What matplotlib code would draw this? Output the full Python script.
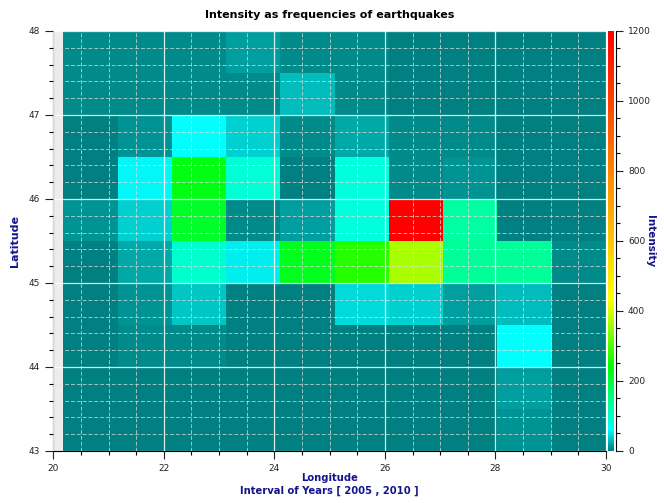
import numpy as np
import matplotlib
matplotlib.use('Agg')
import matplotlib.pyplot as plt
from matplotlib.colors import LinearSegmentedColormap
from matplotlib.ticker import MultipleLocator

# cell edges of the intensity grid
lon_edges = np.linspace(20.18, 30.0, 11)
lat_edges = np.arange(48.0, 42.99, -0.5)

# earthquake intensity per cell, rows from north (48) to south (43)
intensity = [
    [5, 5, 8, 16, 5, 5, 4, 4, 4, 4],
    [5, 5, 9, 5, 32, 8, 4, 4, 4, 4],
    [2, 13, 62, 42, 5, 22, 8, 6, 3, 3],
    [4, 58, 225, 90, 2, 88, 8, 12, 3, 4],
    [10, 38, 215, 6, 17, 85, 1200, 130, 3, 4],
    [2, 22, 95, 55, 222, 270, 370, 135, 135, 8],
    [3, 10, 35, 4, 4, 45, 38, 17, 32, 4],
    [3, 5, 6, 4, 4, 4, 4, 4, 62, 3],
    [3, 3, 3, 3, 3, 3, 3, 3, 15, 3],
    [3, 3, 3, 3, 3, 3, 3, 3, 10, 3],
]

cmap = LinearSegmentedColormap.from_list('quake', [
    (0.0, (0.0, 0.5, 0.5)),
    (0.05, (0.0, 1.0, 1.0)),
    (0.2, (0.0, 1.0, 0.0)),
    (0.36, (1.0, 1.0, 0.0)),
    (1.0, (1.0, 0.0, 0.0)),
])

label_color = '#14148c'

fig = plt.figure(figsize=(6.64, 5.03), dpi=100)
ax = fig.add_axes([0.0803, 0.1034, 0.8324, 0.835])
cax = fig.add_axes([0.9152, 0.1034, 0.0095, 0.835])

ax.set_facecolor('#ececec')
mesh = ax.pcolormesh(lon_edges, lat_edges, np.array(intensity), cmap=cmap,
                     vmin=0, vmax=1200, zorder=1)

ax.set_xlim(20, 30)
ax.set_ylim(43, 48)
ax.xaxis.set_major_locator(MultipleLocator(2))
ax.xaxis.set_minor_locator(MultipleLocator(0.5))
ax.yaxis.set_major_locator(MultipleLocator(1))
ax.yaxis.set_minor_locator(MultipleLocator(0.2))

ax.set_axisbelow(False)
ax.grid(which='major', color='white', lw=0.9, alpha=0.85)
ax.grid(which='minor', color='#e0e0e0', lw=0.7, alpha=0.7, ls=(0, (4, 2)))

for side in ['top', 'right']:
    ax.spines[side].set_visible(False)
ax.tick_params(which='major', length=6, width=0.8, labelsize=6.5, colors='#222222')
ax.tick_params(which='minor', length=3, width=0.8)

ax.set_title('Intensity as frequencies of earthquakes', fontsize=8,
             fontweight='bold', pad=9)
ax.set_ylabel('Latitude', fontsize=8, fontweight='bold', color=label_color,
              labelpad=6)
ax.set_xlabel('Longitude\nInterval of Years [ 2005 , 2010 ]', fontsize=7.2,
              fontweight='bold', color=label_color, labelpad=0,
              linespacing=1.3)

cbar = fig.colorbar(mesh, cax=cax)
cbar.outline.set_visible(False)
cax.spines['right'].set_visible(True)
cax.spines['right'].set_position(('outward', 1.5))
cax.spines['right'].set_linewidth(0.8)
cbar.set_ticks(np.arange(0, 1201, 200))
cax.yaxis.set_minor_locator(MultipleLocator(50))
cax.tick_params(which='major', length=5, width=0.8, labelsize=6.5, colors='#222222')
cax.tick_params(which='minor', length=3, width=0.8)
fig.text(650 / 664, 0.521, 'Intensity', fontsize=7.5, fontweight='bold',
         color=label_color, rotation=-90, ha='center', va='center')

fig.savefig('out.png', dpi=100)
